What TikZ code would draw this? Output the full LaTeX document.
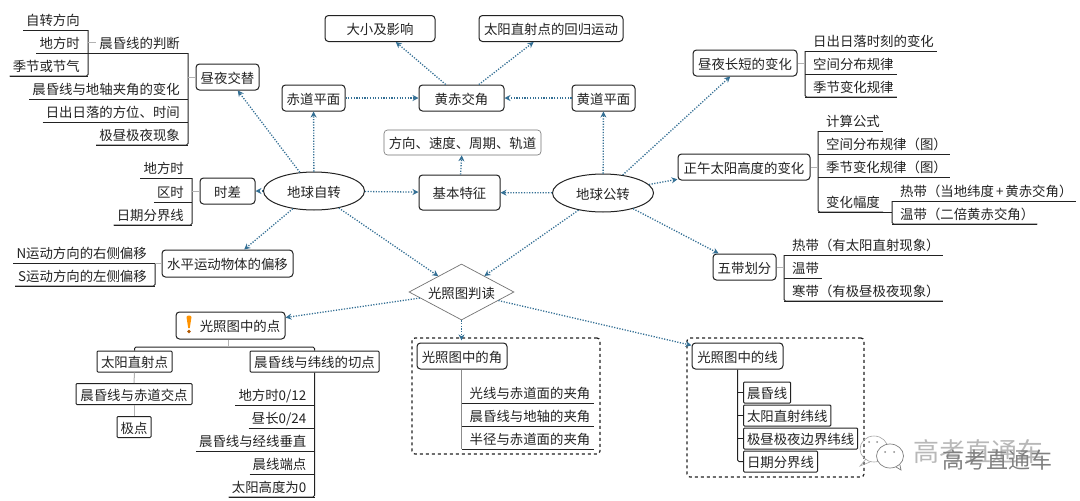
\documentclass[tikz,border=0pt]{standalone}
\usepackage{fontspec}
\setmainfont{Noto Sans CJK SC}
\usetikzlibrary{arrows.meta,shapes.geometric}
\definecolor{ink}{HTML}{222222}
\definecolor{flowblue}{HTML}{336F94}
\tikzset{
	box/.style={draw=ink,line width=1pt,rounded corners=3.5pt,inner sep=0pt,minimum height=26,text height=12pt,text depth=0pt,text=ink},
	sbox/.style={draw=ink,line width=1pt,rounded corners=1pt,inner xsep=3.5pt,inner ysep=0pt,minimum height=21,text height=12pt,text depth=0pt,text=ink},
	hub/.style={draw=ink,line width=1pt,ellipse,inner sep=0pt,minimum width=101,minimum height=38,text height=12pt,text depth=0pt,text=ink},
	twig/.style={draw=ink,line width=1pt,rounded corners=1.5pt},
	stub/.style={draw=black!30,line width=1pt},
	flow/.style={draw=flowblue,line width=1.3pt,dash pattern=on 1.2pt off 1.5pt,-{Stealth[length=6pt,width=6pt]}},
	frame/.style={draw=ink,line width=1.2pt,dashed,rounded corners=3pt,inner sep=0pt},
	lleaf/.style={anchor=south east,text=ink,inner xsep=3pt,inner ysep=0pt,minimum height=21,text height=13pt,text depth=0pt,execute at end node={\hspace{5pt}},
		append after command={(\tikzlastnode.south west) edge[twig] (\tikzlastnode.south east)}},
	rleaf/.style={anchor=south west,text=ink,inner xsep=3pt,inner ysep=0pt,minimum height=21,text height=13pt,text depth=0pt,execute at begin node={\hspace{5pt}},
		append after command={(\tikzlastnode.south west) edge[twig] (\tikzlastnode.south east)}},
}
\begin{document}
\begin{tikzpicture}[x=1pt,y=-1pt,font=\fontsize{13.4}{15}\selectfont]
	\useasboundingbox[fill=white] (0,0) rectangle (1080,501);
	% middle row and the top
	\node[hub] (zizhuan) at (314,191) {地球自转};
	\node[hub] (gongzhuan) at (603,193) {地球公转};
	\node[box,minimum width=63] (zhouye) at (227.5,77) {昼夜交替};
	\node[box,minimum width=63] (chidao) at (313.5,98) {赤道平面};
	\node[box,minimum width=85] (jiaojiao) at (461.5,98) {黄赤交角};
	\node[box,minimum width=63] (huangdao) at (603.5,98) {黄道平面};
	\node[box,minimum width=110] (daxiao) at (380,28.5) {大小及影响};
	\node[box,minimum width=144] (huigui) at (551,28.5) {太阳直射点的回归运动};
	\node[box,draw=black!55,line width=0.6pt,minimum width=157,minimum height=25] (fangxiang) at (462.5,142.5) {方向、速度、周期、轨道};
	\node[box,minimum width=81,minimum height=35] (tezheng) at (459.5,192.5) {基本特征};
	\node[box,minimum width=55] (shicha) at (227.5,191) {时差};
	\node[box,minimum width=131,minimum height=27] (pianyi) at (227.5,263.5) {水平运动物体的偏移};
	\node[box,minimum width=104] (changduan) at (745,63) {昼夜长短的变化};
	\node[box,minimum width=132] (zhengwu) at (744,167) {正午太阳高度的变化};
	\node[box,minimum width=63] (wudai) at (744.5,267) {五带划分};
	\node[diamond,draw=black!55,line width=0.7pt,shape aspect=1.875,inner sep=0pt,minimum width=105,minimum height=56,text height=12pt,text depth=0pt,text=ink] (tu) at (461.5,292) {光照图判读};
	\foreach \a/\b in {zizhuan/zhouye,zizhuan/chidao,zizhuan/shicha,zizhuan/pianyi,zizhuan/tu,zizhuan/tezheng,chidao/jiaojiao,huangdao/jiaojiao,jiaojiao/daxiao,jiaojiao/huigui,tezheng/fangxiang,gongzhuan/tezheng,gongzhuan/huangdao,gongzhuan/changduan,gongzhuan/zhengwu,gongzhuan/wudai,gongzhuan/tu}
		\draw[flow] (\a) -- (\b);
	% zhouye tree
	\node[lleaf] (zfx) at (88,30) {自转方向};
	\node[lleaf] (dfs) at (88,53) {地方时};
	\node[lleaf] (jijie) at (88,76) {季节或节气};
	\node[lleaf] (panduan) at (188,53) {晨昏线的判断};
	\node[lleaf] (dizhou) at (188,99) {晨昏线与地轴夹角的变化};
	\node[lleaf] (richu) at (188,122) {日出日落的方位、时间};
	\node[lleaf] (jizhou) at (188,145) {极昼极夜现象};
	\draw[twig] (zfx.south east) |- (jijie.south west);
	\draw[twig] (dfs.south east) -- (panduan.south west);
	\draw[twig] (panduan.south east) |- (jizhou.south west);
	\draw[stub] (zfx.south east |- panduan.west) -- (panduan.west);
	\draw[stub] (zhouye.west) -- (panduan.south east |- zhouye.west);
	% shicha tree
	\node[lleaf] (dfs2) at (192,178) {地方时};
	\node[lleaf] (qushi) at (192,202) {区时};
	\node[lleaf] (riqi) at (192,225) {日期分界线};
	\draw[twig] (dfs2.south east) |- (riqi.south west);
	\draw[stub] (shicha.west) -- (dfs2.south east |- shicha.west);
	% pianyi tree
	\node[lleaf] (nyun) at (155,263) {N运动方向的右侧偏移};
	\node[lleaf] (syun) at (155,286) {S运动方向的左侧偏移};
	\draw[twig] (nyun.south east) |- (syun.south west);
	\draw[stub] (pianyi.west) -- (nyun.south east |- pianyi.west);
	% changduan tree
	\node[rleaf] (shike) at (805,51) {日出日落时刻的变化};
	\node[rleaf] (kongjian) at (805,74) {空间分布规律};
	\node[rleaf] (jibian) at (805,97) {季节变化规律};
	\draw[twig] (shike.south west) |- (jibian.south east);
	\draw[stub] (changduan.east) -- (shike.south west |- changduan.east);
	% zhengwu tree
	\node[rleaf] (jisuan) at (818,131) {计算公式};
	\node[rleaf] (kongtu) at (818,154) {空间分布规律（图）};
	\node[rleaf] (jitu) at (818,177) {季节变化规律（图）};
	\node[rleaf] (fudu) at (818,212) {变化幅度};
	\node[rleaf] (redai) at (892,201) {热带（当地纬度\kern2pt+\kern2pt黄赤交角）};
	\node[rleaf] (wendai) at (892,224) {温带（二倍黄赤交角）};
	\draw[twig] (jisuan.south west) |- (fudu.south east);
	\draw[twig] (fudu.south east) -- (fudu.south -| redai.south west);
	\draw[twig] (redai.south west) |- (wendai.south east);
	\draw[stub] (zhengwu.east) -- (jisuan.south west |- zhengwu.east);
	% wudai tree
	\node[rleaf] (re) at (784,255) {热带（有太阳直射现象）};
	\node[rleaf] (wen) at (784,278) {温带};
	\node[rleaf] (han) at (784,301) {寒带（有极昼极夜现象）};
	\draw[twig] (re.south west) |- (han.south east);
	\draw[stub] (wudai.east) -- (re.south west |- wudai.east);
	% points
	\node[box,minimum width=109,minimum height=27] (dian) at (230.5,325.5) {\hspace{19pt}光照图中的点};
	\fill[orange!85!yellow] (186.5,317) .. controls (187,315) and (191,315) .. (191.5,317) -- (189.8,328) -- (188.2,328) -- cycle;
	\fill[orange!70!black] (189,331.5) circle (1.8);
	\node[sbox,minimum width=75] (zhishe) at (134.5,361.5) {太阳直射点};
	\node[sbox,minimum width=116] (jiaodian) at (134,394) {晨昏线与赤道交点};
	\node[sbox,minimum width=34] (jidian) at (134,427) {极点};
	\node[sbox,minimum width=129] (qiedian) at (314.5,361.5) {晨昏线与纬线的切点};
	\coordinate (fork) at (228,347);
	\draw[twig] (zhishe.north) |- (fork) -| (qiedian.north);
	\draw[stub] (dian.south -| fork) -- (fork);
	\draw[stub] (zhishe) -- (jiaodian);
	\draw[stub] (jiaodian) -- (jidian);
	\node[lleaf] (d1) at (314.5,405) {地方时0/12};
	\node[lleaf] (d2) at (314.5,428) {昼长0/24};
	\node[lleaf] (d3) at (314.5,451) {晨昏线与经线垂直};
	\node[lleaf] (d4) at (314.5,474) {晨线端点};
	\node[lleaf] (d5) at (314.5,497) {太阳高度为0};
	\draw[twig] (qiedian.south) |- (d5.south west);
	% angles
	\node[frame,minimum width=188,minimum height=116] (kuangjiao) at (506,396) {};
	\node[box,minimum width=90] (jiao) at (462,356) {光照图中的角};
	\node[rleaf] (j1) at (461.5,403) {光线与赤道面的夹角};
	\node[rleaf] (j2) at (461.5,426) {晨昏线与地轴的夹角};
	\node[rleaf] (j3) at (461.5,449) {半径与赤道面的夹角};
	\draw[twig,draw=black!45] (jiao.south -| j3.south west) -- (j3.south west);
	% lines
	\node[frame,minimum width=177,minimum height=139] (kuangxian) at (775.5,407.5) {};
	\node[box,minimum width=91] (xian) at (737.5,356) {光照图中的线};
	\node[sbox,anchor=west] (x1) at (743,392.5) {晨昏线};
	\node[sbox,anchor=west] (x2) at (743,415.5) {太阳直射纬线};
	\node[sbox,anchor=west] (x3) at (743,438.5) {极昼极夜边界纬线};
	\node[sbox,anchor=west] (x4) at (743,461.5) {日期分界线};
	\draw[twig] (xian.south) |- (x4.west);
	\foreach \n in {x1,x2,x3}
		\draw[twig] (xian.south |- \n.west) -- (\n.west);
	% from the diamond
	\draw[flow] (tu) -- (dian);
	\draw[flow,shorten >=-3pt] (tu.south) -- (kuangjiao.north -| tu.south);
	\draw[flow] (tu) -- (xian);
	% watermark
	\draw[black!35,line width=0.6pt] (874,449) ellipse (14 and 13);
	\draw[black!35,line width=0.6pt] (866,459) -- (860,466) -- (870,462);
	\filldraw[draw=black!50,fill=white,line width=0.7pt] (890,456) ellipse (13.5 and 12);
	\draw[black!50,line width=0.7pt] (896,467) -- (901,470) -- (900,465);
	\foreach \p in {(869,442),(877,442),(885,452),(894,452)}
		\fill[black!45] \p circle (1);
	\node[text=black!28,font=\fontsize{26}{28}\selectfont,inner sep=0pt] (shui1) at (978,452) {高考直通车};
	\node[text=black!50,font=\fontsize{22}{24}\selectfont,inner sep=0pt] (shui2) at (997,460) {高考直通车};
\end{tikzpicture}
\end{document}
